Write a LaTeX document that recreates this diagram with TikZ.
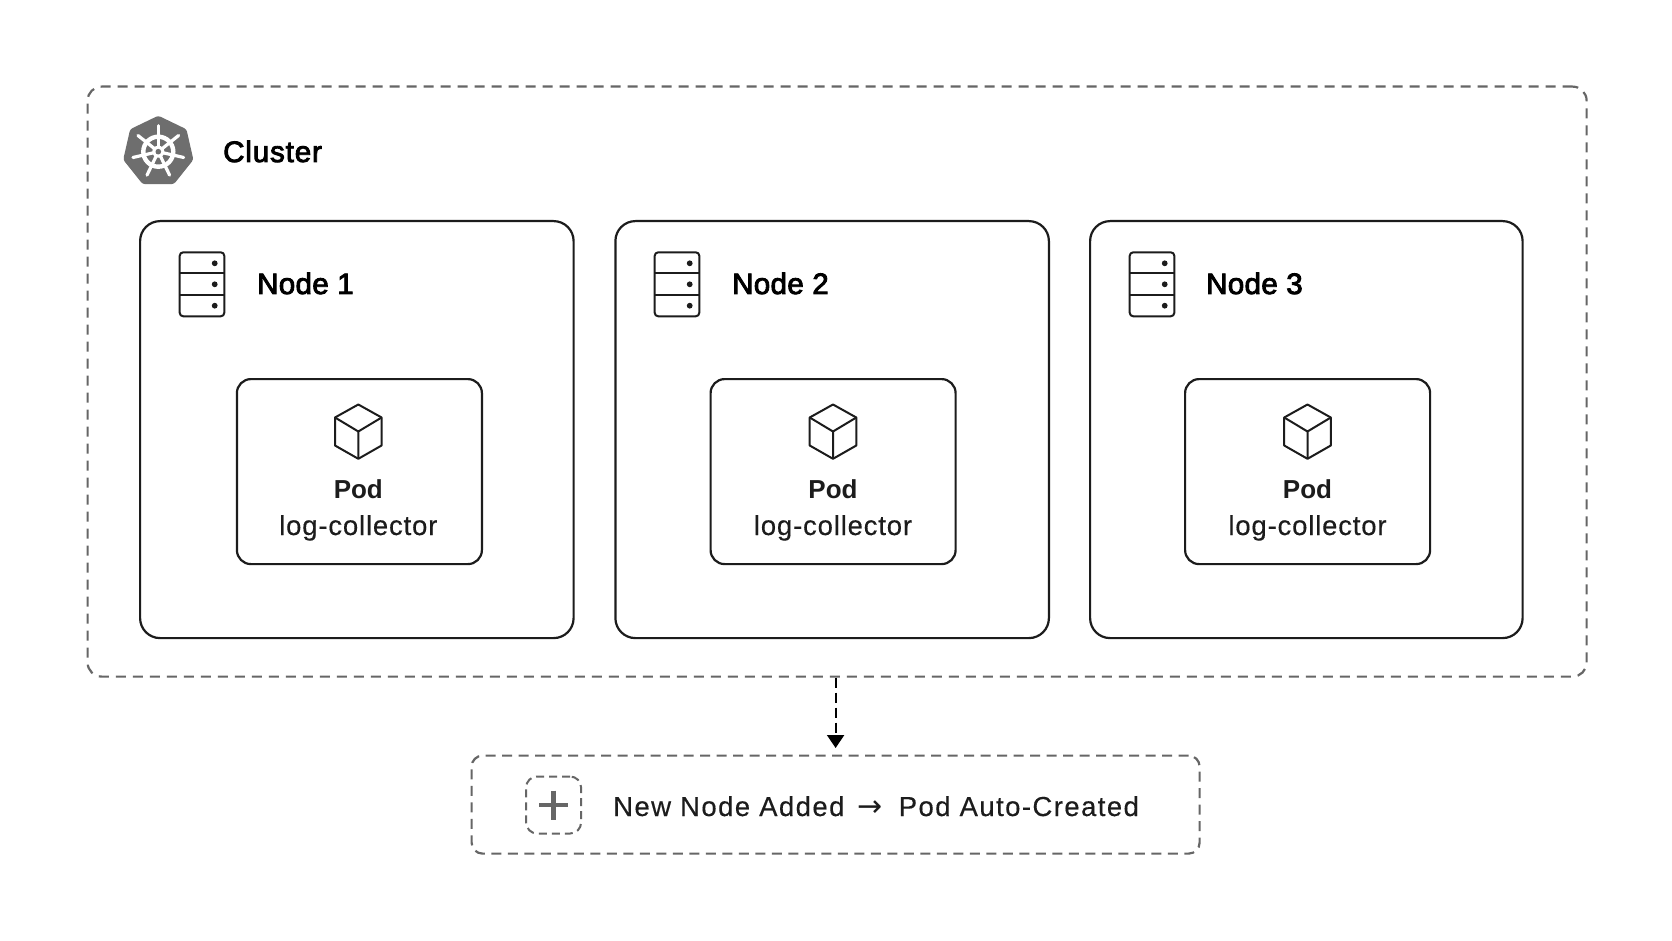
\documentclass[tikz,border=0pt]{standalone}
\usepackage{fontspec}
\setmainfont{Liberation Sans}
\newfontfamily\medfont[FakeBold=3,LetterSpace=1.2]{Liberation Sans}
\newfontfamily\clusterfont[FakeBold=3,LetterSpace=3]{Liberation Sans}
\newfontfamily\regfont[FakeBold=0.3,LetterSpace=3]{Liberation Sans}
\newfontfamily\addfont[FakeBold=0.3,LetterSpace=5.2]{Liberation Sans}
\newfontfamily\arrowfont{DejaVu Sans}
\usetikzlibrary{arrows.meta}
\definecolor{ink}{HTML}{1C1C1C}
\definecolor{dashgray}{HTML}{666666}
\definecolor{helm}{HTML}{6E6E6E}
\tikzset{
  x=1pt,y=-1pt,
  clusterbox/.style={draw=dashgray,line width=2.2pt,dash pattern=on 10pt off 7pt,rounded corners=14pt,minimum width=1499pt,minimum height=590pt,anchor=north west,inner sep=0pt},
  nodebox/.style={draw=ink,line width=2.2pt,rounded corners=20pt,minimum width=433.5pt,minimum height=417pt,anchor=north west,inner sep=0pt},
  podbox/.style={draw=ink,line width=2.2pt,rounded corners=14pt,minimum width=245pt,minimum height=185pt,anchor=north west,inner sep=0pt},
  addbox/.style={draw=dashgray,line width=2.2pt,dash pattern=on 10pt off 6.5pt,rounded corners=11pt,minimum width=728pt,minimum height=98pt,anchor=north west,inner sep=0pt},
  plusbox/.style={draw=dashgray,line width=2pt,dash pattern=on 8pt off 5pt,rounded corners=11pt,minimum width=55pt,minimum height=57pt,inner sep=0pt},
  titletext/.style={anchor=base west,inner sep=0pt,text=black,font=\medfont\fontsize{29.5}{32}\selectfont},
  clustertext/.style={anchor=base west,inner sep=0pt,text=black,font=\clusterfont\fontsize{29.5}{32}\selectfont},
  podtext/.style={anchor=base,inner sep=0pt,text=ink,font=\bfseries\fontsize{26}{30}\selectfont},
  subtext/.style={anchor=base,inner sep=0pt,text=ink,font=\regfont\fontsize{27.5}{30}\selectfont},
  addtext/.style={anchor=base west,inner sep=0pt,text=ink,font=\addfont\fontsize{27.5}{30}\selectfont},
  flow/.style={draw=black,line width=2.2pt,dash pattern=on 10pt off 5pt,-{Triangle[length=13pt,width=17pt]}},
  icon/.style={draw=ink,line width=2pt,line join=round},
  servericon/.pic={
    \draw[icon,rounded corners=3.5pt] (-22.3,-32) rectangle (22.3,32);
    \draw[icon] (-22.3,-11) -- (22.3,-11) (-22.3,10.5) -- (22.3,10.5);
    \fill[ink] (12.7,-21) circle [radius=2.9] (12.7,0) circle [radius=2.9] (12.7,21.4) circle [radius=2.9];
  },
  cubeicon/.pic={
    \draw[icon] (0,-27) -- (23.3,-14) -- (23.3,14) -- (0,27.3) -- (-23.3,14) -- (-23.3,-14) -- cycle;
    \draw[icon] (-23.3,-14) -- (0,0) -- (23.3,-14) (0,0) -- (0,27.3);
  },
  helmicon/.pic={
    \fill[helm,rounded corners=2.5pt] (-90:36) -- (-38.57:36) -- (12.86:36) -- (64.29:36) -- (115.71:36) -- (167.14:36) -- (218.57:36) -- cycle;
    \draw[white,line width=4.4pt] (0,0) circle [radius=15];
    \foreach \a in {-90,-38.57,12.86,64.29,115.71,167.14,218.57}
      \draw[white,line width=3.2pt,line cap=round] (0,0) -- (\a:26);
    \fill[white] (0,0) circle [radius=6];
    \fill[helm] (0,0) circle [radius=2.8];
  },
}
\begin{document}
\begin{tikzpicture}
\useasboundingbox (0,0) rectangle (1672,941);
\fill[white] (0,0) rectangle (1672,941);

% cluster
\node[clusterbox] (cluster) at (86.5,85.5) {};
\pic at (158.3,151.7) {helmicon};
\node[clustertext] (clustertitle) at (223,162) {Cluster};

% worker nodes
\node[nodebox] (n1) at (139,220) {};
\node[nodebox] (n2) at (614.3,220) {};
\node[nodebox,minimum width=432.5pt] (n3) at (1089,220) {};
\pic at (202,284.3) {servericon};
\pic at (677,284.3) {servericon};
\pic at (1152,284.3) {servericon};
\node[titletext] (n1title) at (257,294) {Node 1};
\node[titletext] (n2title) at (732,294) {Node 2};
\node[titletext] (n3title) at (1206,294) {Node 3};

% pods
\node[podbox] (p1) at (235.8,378) {};
\node[podbox] (p2) at (709.5,378) {};
\node[podbox] (p3) at (1184,378) {};
\pic at (358.3,431.5) {cubeicon};
\pic at (833,431.5) {cubeicon};
\pic at (1307.5,431.5) {cubeicon};
\node[podtext] (p1a) at (358.3,498.5) {Pod};
\node[podtext] (p2a) at (833,498.5) {Pod};
\node[podtext] (p3a) at (1307.5,498.5) {Pod};
\node[subtext] (p1b) at (358.3,535) {log-collector};
\node[subtext] (p2b) at (833,535) {log-collector};
\node[subtext] (p3b) at (1307.5,535) {log-collector};

% new node notice
\node[addbox] (add) at (470.5,754.5) {};
\node[plusbox] (plus) at (553.6,805) {};
\draw[dashgray,line width=4.5pt] (plus.center) +(-14.5,0) -- +(14.5,0) (plus.center) +(0,-14.5) -- +(0,14.5);
\node[addtext] (addlabel) at (613,816) {New Node Added\hspace{4pt} {\arrowfont\fontsize{30}{30}\selectfont →}\hspace{7pt} Pod Auto-Created};

\draw[flow,shorten >=6.5pt] (cluster.south -| add.north) -- (add.north);
\end{tikzpicture}
\end{document}
